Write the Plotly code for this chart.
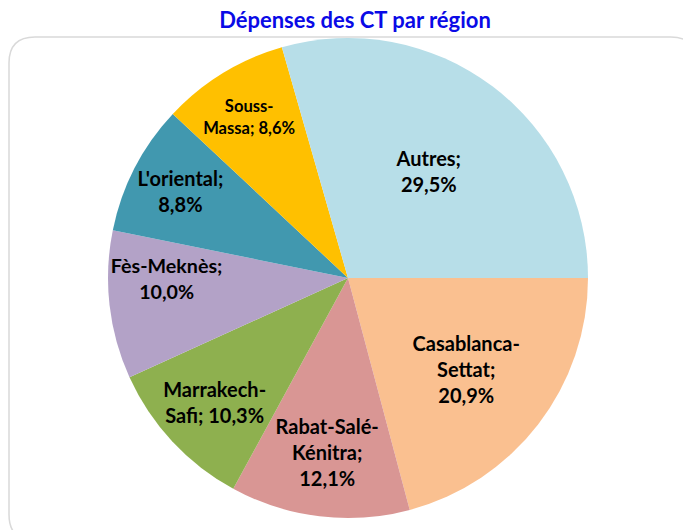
import plotly.graph_objects as go

regions = ["Casablanca-<br>Settat", "Rabat-Salé-<br>Kénitra", "Marrakech-<br>Safi", "Fès-Meknès",
           "L'oriental", "Souss-<br>Massa", "Autres"]
shares = [20.9, 12.1, 10.3, 10.0, 8.8, 8.6, 29.5]
share_text = ["20,9%", "12,1%", "10,3%", "10,0%", "8,8%", "8,6%", "29,5%"]
sep = [";<br>", ";<br>", "; ", ";<br>", ";<br>", "; ", ";<br>"]
colors = ["#FAC090", "#D99694", "#8EB04F", "#B3A2C7", "#4198AF", "#FFC000", "#B7DEE8"]

labels_txt = [r + s + t for r, s, t in zip(regions, sep, share_text)]

W, H = 683, 530
cx, cy, R = 348, 278, 240

fig = go.Figure(go.Pie(
    labels=regions,
    values=shares,
    text=labels_txt,
    textinfo="text",
    textposition="inside",
    insidetextorientation="horizontal",
    sort=False,
    direction="clockwise",
    rotation=90,
    marker=dict(colors=colors, line=dict(width=0)),
    textfont=dict(family="Lato", size=20, color="black", weight="bold"),
    showlegend=False,
    hoverinfo="label+percent",
    domain=dict(x=[(cx - R) / W, (cx + R) / W], y=[1 - (cy + R) / H, 1 - (cy - R) / H]),
))

# rounded chart border
x0, y0, x1, y1, r = 9 / W, 1 - 37 / H, 1.02, -0.02, 26
rx, ry = r / W, r / H
path = (f"M {x0+rx},{y0} L {x1-rx},{y0} Q {x1},{y0} {x1},{y0-ry} L {x1},{y1+ry} "
        f"Q {x1},{y1} {x1-rx},{y1} L {x0+rx},{y1} Q {x0},{y1} {x0},{y1+ry} "
        f"L {x0},{y0-ry} Q {x0},{y0} {x0+rx},{y0} Z")
fig.add_shape(type="path", path=path, xref="paper", yref="paper",
              line=dict(color="#D9D9D9", width=1.5), layer="below")

fig.update_layout(
    width=W, height=H,
    margin=dict(l=0, r=0, t=0, b=0),
    paper_bgcolor="white",
    title=dict(text="<b>Dépenses des CT par région</b>", x=355 / W, xanchor="center",
               y=1 - 20 / H, yanchor="middle",
               font=dict(family="Lato", size=22, color="#0A0AE6")),
)

fig.write_html("out.html", config={"displayModeBar": False},
               post_script="document.body.style.margin='0';")
